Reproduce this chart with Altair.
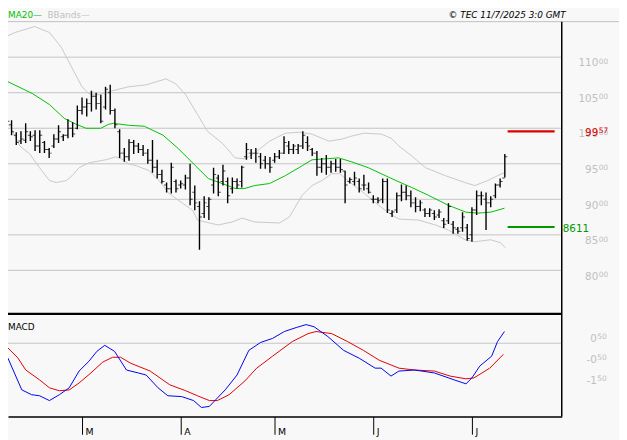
import altair as alt
import pandas as pd

# ---------------- data ----------------
HIGH = [10681, 10514, 10111, 9944, 9958, 10069, 9958, 9972, 9972, 9819,
        9722, 9917, 10042, 9917, 10125, 10083, 10319, 10431, 10417, 10528,
        10500, 10472, 10583, 10611, 10278, 9986, 9722, 9847, 9833, 9792,
        9764, 9708, 9833, 9556, 9417, 9236, 9514, 9278, 9264, 9347,
        9500, 9194, 8972, 9042, 9028, 9445, 9347, 9486, 9306, 9306,
        9292, 9472, 9792, 9708, 9722, 9653, 9611, 9597, 9653, 9694,
        9889, 9819, 9778, 9778, 9958, 9889, 9722, 9681, 9583, 9625,
        9542, 9569, 9569, 9403, 9306, 9389, 9292, 9347, 9236, 9056,
        9028, 9292, 9292, 8847, 9097, 9208, 9194, 9125, 9028, 8986,
        8875, 8875, 8847, 8861, 8736, 8944, 8694, 8611, 8819, 8653,
        8889, 9125, 9111, 9097, 9042, 9222, 9292, 9639]
LOW = [10347, 10028, 9903, 9764, 9778, 9792, 9819, 9681, 9653, 9653,
       9583, 9722, 9792, 9819, 9861, 9875, 9986, 10194, 10167, 10236,
       10264, 10069, 10264, 10194, 10000, 9583, 9528, 9542, 9639, 9653,
       9611, 9500, 9375, 9292, 9222, 9097, 9083, 9097, 9153, 9139,
       8917, 8847, 8292, 8736, 8708, 9083, 9042, 9194, 8944, 9083,
       9153, 9167, 9556, 9569, 9514, 9431, 9431, 9375, 9514, 9569,
       9639, 9639, 9639, 9639, 9708, 9681, 9611, 9333, 9375, 9347,
       9375, 9389, 9375, 8944, 9222, 9194, 9097, 9125, 9083, 8944,
       8944, 8944, 8806, 8750, 8806, 8972, 8986, 8889, 8819, 8833,
       8750, 8750, 8708, 8736, 8597, 8653, 8514, 8514, 8542, 8417,
       8403, 8778, 8917, 8569, 8889, 9014, 9167, 9306]
OPEN = [10600, 10400, 10050, 9900, 9820, 9830, 9900, 9900, 9750, 9800,
        9700, 9750, 9850, 9880, 9900, 10000, 10000, 10250, 10300, 10350,
        10450, 10350, 10300, 10500, 10250, 9950, 9650, 9600, 9800, 9750,
        9700, 9650, 9550, 9450, 9350, 9200, 9150, 9250, 9200, 9200,
        9300, 9100, 8900, 8800, 8900, 9200, 9300, 9250, 9250, 9150,
        9250, 9250, 9600, 9650, 9650, 9600, 9550, 9500, 9550, 9600,
        9650, 9750, 9700, 9700, 9750, 9800, 9700, 9650, 9450, 9500,
        9450, 9500, 9450, 9400, 9250, 9250, 9250, 9200, 9150, 9000,
        9000, 9000, 9250, 8800, 8850, 9050, 9100, 9050, 8950, 8900,
        8850, 8800, 8800, 8780, 8700, 8700, 8650, 8580, 8600, 8600,
        8500, 8850, 9050, 9000, 8950, 9050, 9200, 9300]
CLOSE = [10400, 10100, 9950, 9800, 9850, 9950, 9880, 9750, 9900, 9700,
         9650, 9850, 9950, 9900, 10000, 9920, 10250, 10300, 10350, 10450,
         10350, 10100, 10550, 10250, 10050, 9650, 9600, 9800, 9750, 9700,
         9650, 9550, 9450, 9350, 9250, 9150, 9450, 9150, 9220, 9300,
         9000, 8950, 8750, 8950, 9000, 9350, 9100, 9400, 9050, 9250,
         9200, 9450, 9700, 9650, 9650, 9500, 9500, 9450, 9600, 9650,
         9800, 9700, 9750, 9750, 9900, 9750, 9650, 9450, 9500, 9450,
         9500, 9450, 9420, 9200, 9280, 9300, 9150, 9200, 9100, 9000,
         8980, 9250, 8850, 8820, 9050, 9100, 9050, 8950, 8900, 8950,
         8800, 8850, 8750, 8820, 8650, 8900, 8600, 8550, 8750, 8450,
         8850, 9050, 9050, 8950, 9000, 9200, 9250, 9600]

MA_I = [-0.02, 6.49, 10.07, 13.22, 15.74, 17.84, 20.99, 22.67, 23.72, 26.88, 30.24,
        34.23, 37.59, 41.16, 43.9, 46.84, 49.57, 51.67, 53.77, 56.92, 60.29, 63.86,
        65.96, 68.69, 71.63, 74.36, 77.93, 80.67, 83.82, 87.18, 90.75, 94.96, 98.74,
        101.26, 103.99, 106.93]
MA_V = [10695, 10486, 10333, 10139, 10056, 10000, 10000, 10056, 10069, 10042, 10028,
        9903, 9708, 9472, 9292, 9222, 9153, 9153, 9194, 9222, 9333, 9472,
        9556, 9569, 9583, 9528, 9445, 9361, 9264, 9167, 9056, 8917, 8819,
        8806, 8819, 8875]

UP_I = [-0.44, 2.71, 6.91, 10.07, 12.59, 15.32, 17.0, 18.47, 20.57, 22.67, 26.88,
        30.66, 34.86, 36.96, 39.06, 41.58, 43.68, 46.84, 49.57, 51.67, 53.77, 56.92,
        60.29, 63.23, 65.96, 69.53, 72.29, 74.36, 77.09, 80.67, 82.77, 84.45, 87.18,
        90.12, 94.33, 98.53, 100.63, 103.36, 105.46, 106.93]
UP_V = [11250, 11347, 11431, 11347, 11139, 10792, 10583, 10486, 10472, 10514, 10583,
        10611, 10695, 10625, 10472, 10195, 9958, 9792, 9583, 9569, 9653, 9819,
        9931, 9944, 9917, 9819, 9847, 9889, 9931, 9917, 9861, 9750, 9611,
        9445, 9333, 9236, 9194, 9264, 9333, 9375]

LO_I = [-0.02, 1.66, 3.76, 5.86, 7.96, 10.07, 11.54, 13.64, 14.9, 16.37, 18.47,
        22.04, 24.14, 25.4, 26.88, 28.56, 31.29, 33.39, 35.49, 38.43, 40.53, 41.58,
        43.26, 45.99, 48.94, 51.04, 53.77, 59.02, 61.12, 63.86, 65.96, 68.06, 70.16,
        71.84, 74.36, 77.09, 80.67, 82.35, 84.45, 88.65, 92.22, 94.96, 98.53,
        100.63, 103.99, 106.09, 107.14]
LO_V = [10139, 10028, 9750, 9639, 9445, 9264, 9236, 9264, 9333, 9445, 9514,
        9556, 9597, 9569, 9500, 9472, 9403, 9264, 9083, 8944, 8847, 8708,
        8681, 8639, 8681, 8736, 8681, 8667, 8750, 9056, 9194, 9264, 9361,
        9361, 9222, 9083, 8889, 8806, 8722, 8708, 8639, 8569, 8431,
        8403, 8431, 8389, 8319]

MACD_I = [-0.44, 1.24, 4.18, 6.28, 7.96, 10.06, 12.17, 14.27, 16.37, 18.47, 20.15,
          21.83, 23.93, 26.46, 28.98, 30.66, 33.18, 35.28, 38.22, 40.74, 42.42, 44.1,
          47.47, 49.99, 52.51, 55.03, 57.55, 60.07, 62.6, 64.7, 66.38, 69.32, 72.68,
          76.04, 79.4, 80.67, 82.77, 84.45, 87.81, 92.01, 96.21, 98.73, 99.99,
          101.67, 104.19, 105.45, 106.92]
MACD_V = [-34, -72, -223, -246, -251, -274, -246, -213, -133, -86, -39,
          -10, -39, -128, -142, -152, -213, -251, -255, -274, -307, -302,
          -223, -152, -34, 4, 23, 56, 75, 89, 79, 32, -34,
          -72, -119, -119, -157, -133, -128, -142, -175, -194, -166,
          -109, -62, 8, 56]
SIG_I = [-0.44, 1.24, 3.34, 5.02, 7.96, 10.06, 12.17, 14.27, 16.37, 18.89, 21.41,
         23.51, 25.2, 27.3, 31.5, 35.7, 39.06, 41.58, 44.1, 45.79, 48.31, 51.67,
         54.19, 57.55, 61.76, 65.12, 66.8, 70.16, 73.53, 76.89, 80.25, 84.45,
         87.81, 92.01, 95.37, 98.73, 100.4, 103.8, 106.7]
SIG_V = [8, -23, -70, -128, -175, -213, -227, -223, -190, -142, -90,
         -67, -67, -95, -133, -199, -227, -251, -274, -274, -246, -180,
         -119, -62, 8, 46, 56, 46, 8, -34, -81, -119,
         -128, -133, -157, -170, -166, -119, -53]

MONTH_IDX = [17, 38, 58, 79, 100]
MONTH_LAB = ["M", "A", "M", "J", "J"]
PRICE_TICKS = [8000, 8500, 9000, 9500, 10000, 10500, 11000]
MACD_TICKS = [50, -50, -150]
RESISTANCE = 9957
SUPPORT = 8611
LEVEL_SPAN = [107.6, 117.6]   # bar-index range of the level lines

# ---------------- layout ----------------
W, H = 561, 400
FONT = "DejaVu Sans"
BG = "#f8f8f8"
GRID = "#c4c4c4"
BAND = "#c8c8c8"
XS = alt.Scale(domain=[1.24, 119.12], nice=False, zero=False)
PS = alt.Scale(domain=[5944.4, 11500], nice=False, zero=False)
MS = alt.Scale(domain=[-350, 1536.8], nice=False, zero=False)

lab_expr = " : ".join(
    f"datum.value == {v} ? '{t}'" for v, t in zip(MONTH_IDX, MONTH_LAB)) + " : ''"
XAX = alt.Axis(values=MONTH_IDX, labelExpr=lab_expr, title=None, grid=False,
               tickSize=18, tickColor="black", tickWidth=1,
               domainColor="black", domainWidth=1.5,
               labelAlign="left", labelBaseline="alphabetic", labelPadding=0.5,
               labelOffset=3, labelFont=FONT, labelFontSize=9.5,
               labelColor="black", labelFlush=False, labelOverlap=False)


def X(field="i"):
    return alt.X(f"{field}:Q", scale=XS, axis=XAX)


bars = pd.DataFrame({"i": list(range(len(HIGH))), "high": HIGH, "low": LOW,
                     "open": OPEN, "close": CLOSE})
ma = pd.DataFrame({"i": MA_I, "v": MA_V})
up = pd.DataFrame({"i": UP_I, "v": UP_V})
lo = pd.DataFrame({"i": LO_I, "v": LO_V})
mac = pd.DataFrame({"i": MACD_I, "m": MACD_V})
sig = pd.DataFrame({"i": SIG_I, "m": SIG_V})
ptk = pd.DataFrame({"v": PRICE_TICKS,
                    "main": [str(v // 100) for v in PRICE_TICKS],
                    "sup": [f"{v % 100:02d}" for v in PRICE_TICKS]})
levels = pd.DataFrame({"v": [RESISTANCE, SUPPORT], "a": LEVEL_SPAN[0],
                       "b": LEVEL_SPAN[1], "c": ["r", "g"]})
mtk = pd.DataFrame({"m": MACD_TICKS,
                    "main": [("-" if v < 0 else "") + str(abs(v) // 100) for v in MACD_TICKS],
                    "sup": [f"{abs(v) % 100:02d}" for v in MACD_TICKS]})
one = pd.DataFrame({"k": [0]})

# ---------------- price panel ----------------
grid = alt.Chart(ptk).mark_rule(color=GRID, strokeWidth=1).encode(
    y=alt.Y("v:Q", scale=PS, axis=None), x=alt.value(0), x2=alt.value(W))
upper = alt.Chart(up).mark_line(color=BAND, strokeWidth=1, clip=True).encode(
    x=X(), y=alt.Y("v:Q", scale=PS, axis=None))
lower = alt.Chart(lo).mark_line(color=BAND, strokeWidth=1, clip=True).encode(
    x=X(), y=alt.Y("v:Q", scale=PS, axis=None))
ma_line = alt.Chart(ma).mark_line(color="#00c000", strokeWidth=1, clip=True).encode(
    x=X(), y=alt.Y("v:Q", scale=PS, axis=None))
hl = alt.Chart(bars).mark_rule(color="black", strokeWidth=1.4, clip=True).encode(
    x=X(), y=alt.Y("low:Q", scale=PS, axis=None), y2="high:Q")
o_t = alt.Chart(bars).mark_tick(color="black", orient="horizontal", size=2.5,
                                thickness=1, xOffset=-1.3, clip=True).encode(
    x=X(), y=alt.Y("open:Q", scale=PS, axis=None))
c_t = alt.Chart(bars).mark_tick(color="black", orient="horizontal", size=2.5,
                                thickness=1, xOffset=1.3, clip=True).encode(
    x=X(), y=alt.Y("close:Q", scale=PS, axis=None))
lvl = alt.Chart(levels).mark_rule(strokeWidth=2.2).encode(
    x=X("a"), x2="b:Q", y=alt.Y("v:Q", scale=PS, axis=None),
    color=alt.Color("c:N", scale=alt.Scale(domain=["r", "g"], range=["#dd0000", "#009900"]),
                    legend=None))
plab = alt.Chart(ptk).mark_text(align="right", baseline="alphabetic", dy=9.3,
                                font=FONT, fontSize=10.5, color="#c0c0c0").encode(
    y=alt.Y("v:Q", scale=PS, axis=None), x=alt.value(598), text="main:N")
psup = alt.Chart(ptk).mark_text(align="left", baseline="alphabetic", dy=6.8,
                                font=FONT, fontSize=7.5, color="#c0c0c0").encode(
    y=alt.Y("v:Q", scale=PS, axis=None), x=alt.value(598.5), text="sup:N")
res_df = pd.DataFrame({"v": [RESISTANCE], "main": [str(RESISTANCE // 100)],
                       "sup": [f"{RESISTANCE % 100:02d}"], "full": [str(SUPPORT)]})
rlab = alt.Chart(res_df).mark_text(align="right", baseline="alphabetic", dy=4.6,
                                   font=FONT, fontSize=10.5, color="#dd0000").encode(
    y=alt.Y("v:Q", scale=PS, axis=None), x=alt.value(598), text="main:N")
rsup = alt.Chart(res_df).mark_text(align="left", baseline="alphabetic", dy=2.2,
                                   font=FONT, fontSize=7.5, color="#dd0000").encode(
    y=alt.Y("v:Q", scale=PS, axis=None), x=alt.value(598.5), text="sup:N")
sup_df = pd.DataFrame({"v": [SUPPORT], "t": [str(SUPPORT)]})
glab = alt.Chart(sup_df).mark_text(align="left", baseline="alphabetic", dy=4.8,
                                   font=FONT, fontSize=10.5, color="#009900").encode(
    y=alt.Y("v:Q", scale=PS, axis=None), x=alt.value(562), text="t:N")

price = alt.layer(grid, upper, lower, ma_line, hl, o_t, c_t, lvl,
                  plab, psup, rlab, rsup, glab)

# ---------------- MACD panel ----------------
zero = alt.Chart(pd.DataFrame({"m": [0]})).mark_rule(color=GRID).encode(
    y=alt.Y("m:Q", scale=MS, axis=None), x=alt.value(0), x2=alt.value(W))
sig_line = alt.Chart(sig).mark_line(color="#dd0000", strokeWidth=1, clip=True).encode(
    x=X(), y=alt.Y("m:Q", scale=MS, axis=None))
macd_line = alt.Chart(mac).mark_line(color="#0000ee", strokeWidth=1, clip=True).encode(
    x=X(), y=alt.Y("m:Q", scale=MS, axis=None))
mlab = alt.Chart(mtk).mark_text(align="right", baseline="alphabetic", dy=9.3,
                                font=FONT, fontSize=10.5, color="#c0c0c0").encode(
    y=alt.Y("m:Q", scale=MS, axis=None), x=alt.value(596.5), text="main:N")
msup = alt.Chart(mtk).mark_text(align="left", baseline="alphabetic", dy=6.8,
                                font=FONT, fontSize=7.5, color="#c0c0c0").encode(
    y=alt.Y("m:Q", scale=MS, axis=None), x=alt.value(597), text="sup:N")
macd = alt.layer(zero, sig_line, macd_line, mlab, msup)

# ---------------- frame and captions ----------------
top_line = alt.Chart(one).mark_rule(color="#c0c0c0").encode(
    x=alt.value(0), x2=alt.value(619), y=alt.value(0))
right_line = alt.Chart(one).mark_rule(color="black", strokeWidth=1.5).encode(
    x=alt.value(W), y=alt.value(0), y2=alt.value(H))
sep_line = alt.Chart(one).mark_rule(color="black", strokeWidth=2.2).encode(
    x=alt.value(0), x2=alt.value(W), y=alt.value(296))
t_ma = alt.Chart(one).mark_text(align="left", baseline="alphabetic", font=FONT,
                                fontSize=9, color="#00c000").encode(
    x=alt.value(0), y=alt.value(-4), text=alt.value("MA20\u2014"))
t_bb = alt.Chart(one).mark_text(align="left", baseline="alphabetic", font=FONT,
                                fontSize=9, color="#c0c0c0").encode(
    x=alt.value(40), y=alt.value(-4), text=alt.value("BBands\u2014"))
t_src = alt.Chart(one).mark_text(align="right", baseline="alphabetic", font=FONT,
                                 fontSize=9, fontStyle="italic", color="black").encode(
    x=alt.value(565), y=alt.value(-4), text=alt.value("\u00a9 TEC 11/7/2025 3:0 GMT"))
t_macd = alt.Chart(one).mark_text(align="left", baseline="alphabetic", font=FONT,
                                  fontSize=9, color="black").encode(
    x=alt.value(0), y=alt.value(312), text=alt.value("MACD"))
deco = alt.layer(top_line, right_line, sep_line, t_ma, t_bb, t_src, t_macd)

chart = alt.layer(price, macd, deco).resolve_scale(y="independent").properties(
    width=W, height=H,
    autosize=alt.AutoSizeParams(type="none"),
    padding={"left": 0, "top": 11, "right": 58, "bottom": 21},
    background=BG,
).configure_view(stroke=None)

chart.save("out.html", embed_options={"renderer": "svg", "actions": False})
